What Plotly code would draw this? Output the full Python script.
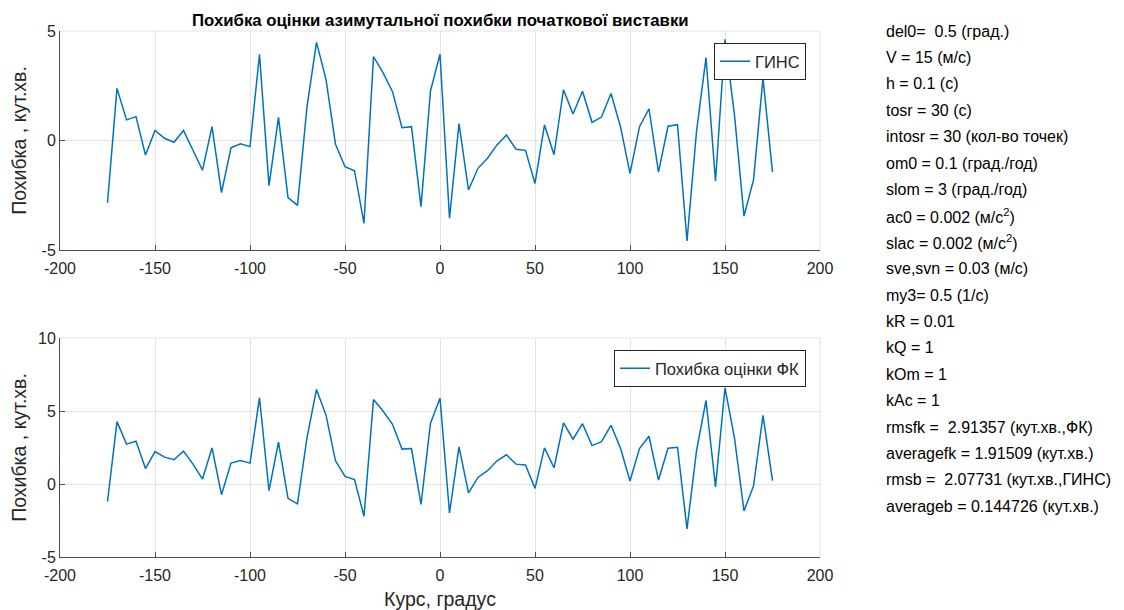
import plotly.graph_objects as go

course = list(range(-175, 180, 5))

gins_err = [-2.84, 2.38, 0.94, 1.09, -0.66, 0.46, 0.10, -0.08, 0.46, -0.45,
            -1.36, 0.63, -2.38, -0.33, -0.15, -0.28, 3.94, -2.06, 1.06, -2.61,
            -2.96, 1.54, 4.48, 2.79, -0.17, -1.20, -1.38, -3.78, 3.83, 3.10,
            2.23, 0.58, 0.63, -3.02, 2.27, 3.94, -3.55, 0.77, -2.26, -1.27,
            -0.81, -0.20, 0.25, -0.40, -0.45, -1.96, 0.71, -0.65, 2.32, 1.21,
            2.25, 0.83, 1.07, 2.15, 0.63, -1.50, 0.63, 1.45, -1.44, 0.65,
            0.72, -4.59, 0.40, 3.78, -1.85, 4.62, 1.16, -3.45, -1.80, 2.84,
            -1.45]

fk_err = [-1.21, 4.27, 2.73, 2.93, 1.06, 2.22, 1.84, 1.66, 2.25, 1.36,
          0.34, 2.47, -0.73, 1.43, 1.61, 1.43, 5.91, -0.46, 2.86, -0.98,
          -1.36, 3.18, 6.48, 4.72, 1.59, 0.52, 0.31, -2.21, 5.79, 5.00,
          4.09, 2.39, 2.43, -1.39, 4.16, 5.88, -1.98, 2.54, -0.61, 0.45,
          0.91, 1.59, 2.00, 1.36, 1.30, -0.30, 2.47, 1.11, 4.18, 3.07,
          4.13, 2.63, 2.90, 4.02, 2.45, 0.20, 2.43, 3.27, 0.27, 2.45,
          2.52, -3.07, 2.27, 5.72, -0.20, 6.59, 3.14, -1.84, -0.14, 4.70,
          0.23]

x_ticks = [-200, -150, -100, -50, 0, 50, 100, 150, 200]
y1_ticks = [-5, 0, 5]
y2_ticks = [-5, 0, 5, 10]

info_lines = [
    "del0=  0.5 (град.)",
    "V = 15 (м/c)",
    "h = 0.1 (c)",
    "tosr = 30 (c)",
    "intosr = 30 (кол-во точек)",
    "om0 = 0.1 (град./год)",
    "slom = 3 (град./год)",
    "ac0 = 0.002 (м/c<sup>2</sup>)",
    "slac = 0.002 (м/c<sup>2</sup>)",
    "sve,svn = 0.03 (м/c)",
    "my3= 0.5 (1/c)",
    "kR = 0.01",
    "kQ = 1",
    "kOm = 1",
    "kAc = 1",
    "rmsfk =  2.91357 (кут.хв.,ФК)",
    "averagefk = 1.91509 (кут.хв.)",
    "rmsb =  2.07731 (кут.хв.,ГИНС)",
    "averageb = 0.144726 (кут.хв.)",
]

FONT = "Liberation Sans, Arial, sans-serif"
LINE_COLOR = "#0072BD"
AX_COLOR = "#4d4d4d"
GRID = "#e3e3e3"

# page body has an 8px margin; size the figure so it ends at the window edge
OFF = 8
W, H = 1124 - OFF, 610 - OFF
# target screen positions of plot area
SX0, SX1, SY0, SY1 = 60, 820, 31, 557
ml = SX0 - OFF
mt = SY0 - OFF
mr = W - (SX1 - OFF)
mb = H - (SY1 - OFF)
ph = SY1 - SY0
pw = SX1 - SX0
top_dom = [(ph - 219) / ph, 1.0]
bot_dom = [0.0, 219 / ph]


def px(xs):
    return (xs - SX0) / pw


def py(ys):
    return (SY1 - ys) / ph


def labels(vals):
    return [str(v) for v in vals]


fig = go.Figure()
fig.add_trace(go.Scatter(x=course, y=gins_err, mode="lines", name="ГИНС",
                         line=dict(color=LINE_COLOR, width=1.5),
                         xaxis="x", yaxis="y", legend="legend"))
fig.add_trace(go.Scatter(x=course, y=fk_err, mode="lines", name="Похибка оцінки ФК",
                         line=dict(color=LINE_COLOR, width=1.5),
                         xaxis="x2", yaxis="y2", legend="legend2"))

axis_common = dict(showgrid=True, gridcolor=GRID, gridwidth=1,
                   showline=True, linecolor=AX_COLOR, linewidth=1,
                   ticks="inside", ticklen=5, tickcolor=AX_COLOR,
                   tickfont=dict(family=FONT, size=16, color="#262626"),
                   zeroline=False, mirror=False, automargin=False)

title_font = dict(family=FONT, size=19.5, color="#262626")
leg_font = dict(family=FONT, size=16.5, color="#262626")

fig.update_layout(
    width=W, height=H,
    margin=dict(l=ml, r=mr, t=mt, b=mb),
    paper_bgcolor="white", plot_bgcolor="white",
    font=dict(family=FONT, color="#262626"),
    xaxis=dict(domain=[0, 1], anchor="y", range=[-200, 200], tickvals=x_ticks,
               ticktext=labels(x_ticks), ticklabelstandoff=4, **axis_common),
    yaxis=dict(domain=top_dom, anchor="x", range=[-5, 5], tickvals=y1_ticks,
               ticktext=labels(y1_ticks),
               title=dict(text="Похибка , кут.хв.", font=title_font, standoff=12),
               **axis_common),
    xaxis2=dict(domain=[0, 1], anchor="y2", range=[-200, 200], tickvals=x_ticks,
                ticktext=labels(x_ticks), ticklabelstandoff=4,
                title=dict(text="Курс, градус", font=title_font, standoff=10),
                **axis_common),
    yaxis2=dict(domain=bot_dom, anchor="x2", range=[-5, 10], tickvals=y2_ticks,
                ticktext=labels(y2_ticks),
                title=dict(text="Похибка , кут.хв.", font=title_font, standoff=12),
                **axis_common),
    legend=dict(x=px(806), y=py(43), xanchor="right", yanchor="top",
                bgcolor="white", bordercolor="#262626", borderwidth=1,
                font=leg_font),
    legend2=dict(x=px(806), y=py(350), xanchor="right", yanchor="top",
                 bgcolor="white", bordercolor="#262626", borderwidth=1,
                 font=leg_font),
    showlegend=True,
)

# light frame on top / right like MATLAB grid box
for dom in (top_dom, bot_dom):
    fig.add_shape(type="line", xref="paper", yref="paper", x0=0, x1=1, y0=dom[1], y1=dom[1],
                  line=dict(color=GRID, width=1))
    fig.add_shape(type="line", xref="paper", yref="paper", x0=1, x1=1, y0=dom[0], y1=dom[1],
                  line=dict(color=GRID, width=1))

fig.add_annotation(text="<b>Похибка оцінки азимутальної похибки початкової виставки</b>",
                   xref="paper", yref="paper", x=px(440), y=py(20),
                   showarrow=False, xanchor="center", yanchor="middle",
                   font=dict(family=FONT, size=16.8, color="black"))

for i, line in enumerate(info_lines):
    ypix = 31 + 26.4 * i
    fig.add_annotation(text=line, xref="paper", yref="paper",
                       x=px(884), y=py(ypix),
                       showarrow=False, xanchor="left", yanchor="middle",
                       font=dict(family=FONT, size=16, color="black"))

fig.write_html("out.html")
